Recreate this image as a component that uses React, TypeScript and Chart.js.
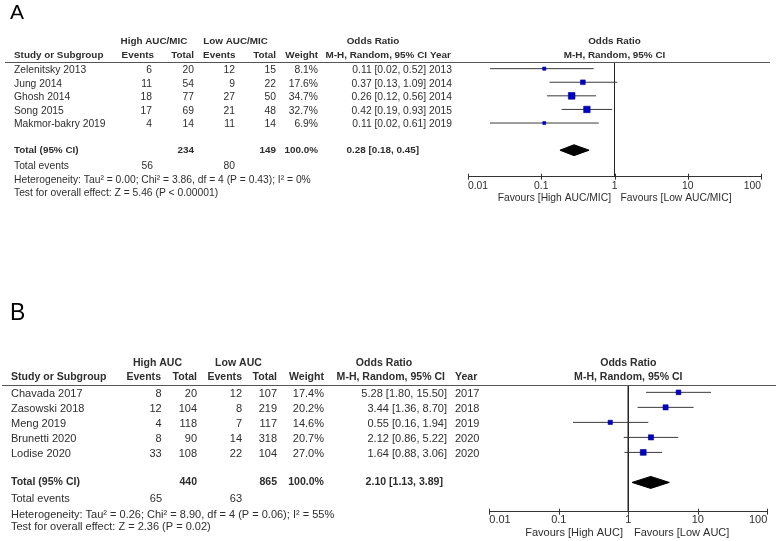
import React, { useEffect, useRef } from "react";
import { Chart, registerables } from "chart.js";
Chart.register(...registerables);

const FONT = '"Liberation Sans", Arial, sans-serif';
const TEXT = "#2e2e2e";

// ---------- Panel A data ----------
const studiesA = ["Zelenitsky 2013", "Jung 2014", "Ghosh 2014", "Song 2015", "Makmor-bakry 2019"];
const highEventsA = [6, 11, 18, 17, 4];
const highTotalA = [20, 54, 77, 69, 14];
const lowEventsA = [12, 9, 27, 21, 11];
const lowTotalA = [15, 22, 50, 48, 14];
const weightA = [8.1, 17.6, 34.7, 32.7, 6.9];
const orA = [0.11, 0.37, 0.26, 0.42, 0.11];
const loA = [0.02, 0.13, 0.12, 0.19, 0.02];
const hiA = [0.52, 1.09, 0.56, 0.93, 0.61];
const yearA = [2013, 2014, 2014, 2015, 2019];
const totalsA = [234, 149];
const totalWeightA = 100.0;
const totalEventsA = [56, 80];
const pooledA = [0.28, 0.18, 0.45];
const hetA = "Heterogeneity: Tau\u00b2 = 0.00; Chi\u00b2 = 3.86, df = 4 (P = 0.43); I\u00b2 = 0%";
const testA = "Test for overall effect: Z = 5.46 (P < 0.00001)";
const groupsA = ["High AUC/MIC", "Low AUC/MIC"];

// ---------- Panel B data ----------
const studiesB = ["Chavada 2017", "Zasowski 2018", "Meng 2019", "Brunetti 2020", "Lodise 2020"];
const highEventsB = [8, 12, 4, 8, 33];
const highTotalB = [20, 104, 118, 90, 108];
const lowEventsB = [12, 8, 7, 14, 22];
const lowTotalB = [107, 219, 117, 318, 104];
const weightB = [17.4, 20.2, 14.6, 20.7, 27.0];
const orB = [5.28, 3.44, 0.55, 2.12, 1.64];
const loB = [1.8, 1.36, 0.16, 0.86, 0.88];
const hiB = [15.5, 8.7, 1.94, 5.22, 3.06];
const yearB = [2017, 2018, 2019, 2020, 2020];
const totalsB = [440, 865];
const totalWeightB = 100.0;
const totalEventsB = [65, 63];
const pooledB = [2.1, 1.13, 3.89];
const hetB = "Heterogeneity: Tau\u00b2 = 0.26; Chi\u00b2 = 8.90, df = 4 (P = 0.06); I\u00b2 = 55%";
const testB = "Test for overall effect: Z = 2.36 (P = 0.02)";
const groupsB = ["High AUC", "Low AUC"];

// ---------- axis ----------
const tickValues = [0.01, 0.1, 1, 10, 100];
const tickLabels = ["0.01", "0.1", "1", "10", "100"];
const Y_MIN = -0.49;
const Y_MAX = 7.95;
const POOLED_ROW = 6;

const panelA = {
  letter: "A", letterSize: 21, letterX: 10, letterY: 13.5,
  height: 250, fs: 10.3,
  pad: { left: 468, right: 17, top: 62, bottom: 250 - 176.7 - 20 },
  h1Y: 41.7, h2Y: 55.3, lineX0: 5, lineX1: 770,
  teY: 165.7, hetY: 180, testY: 193.3, favY: 197.7, favGapL: 3.5, favGapR: 6, tickPad: 3.5,
  studyX: 14, colR: [152, 194, 235, 276, 318, 426], yearX: 429,
  hdrR: [154, 194, 235.5, 276, 318, 427], yearHdrX: 430,
  h1C: [154, 235.5, 373], totOrR: 419, totEvR: [153, 235],
  studies: studiesA, he: highEventsA, ht: highTotalA, le: lowEventsA, lt: lowTotalA,
  w: weightA, or: orA, lo: loA, hi: hiA, year: yearA, totals: totalsA, tw: totalWeightA, tev: totalEventsA,
  pooled: pooledA, het: hetA, test: testA, groups: groupsA,
};

const panelB = {
  letter: "B", letterSize: 23, letterX: 10, letterY: 64,
  height: 291, fs: 11,
  pad: { left: 489.3, right: 10.7, top: 135, bottom: 291 - 261.7 - 20 },
  h1Y: 112.7, h2Y: 127.3, lineX0: 2, lineX1: 776,
  teY: 248.7, hetY: 265.3, testY: 277.3, favY: 283.3, favGapL: 5.3, favGapR: 5.7, tickPad: 2,
  studyX: 11, colR: [161.7, 197, 242, 277, 324, 447], yearX: 455,
  hdrR: [161, 197, 242, 277, 324, 445], yearHdrX: 455,
  h1C: [157.5, 238.5, 384], totOrR: 443, totEvR: [162, 242],
  studies: studiesB, he: highEventsB, ht: highTotalB, le: lowEventsB, lt: lowTotalB,
  w: weightB, or: orB, lo: loB, hi: hiB, year: yearB, totals: totalsB, tw: totalWeightB, tev: totalEventsB,
  pooled: pooledB, het: hetB, test: testB, groups: groupsB,
};

const fmtOR = (o: number, l: number, h: number) => `${o.toFixed(2)} [${l.toFixed(2)}, ${h.toFixed(2)}]`;

function buildChart(canvas: HTMLCanvasElement, c: any) {
  const tablePlugin = {
    id: "forestTable",
    afterDraw(chart: any) {
      const ctx = chart.ctx;
      const xs = chart.scales.x;
      const ys = chart.scales.y;
      const area = chart.chartArea;
      const reg = `${c.fs}px ${FONT}`;
      const bold = `bold ${(c.fs * 0.96).toFixed(2)}px ${FONT}`;
      const t = (s: string, x: number, y: number, align: CanvasTextAlign, f = reg) => {
        ctx.font = f;
        ctx.textAlign = align;
        ctx.fillText(s, x, y);
      };
      ctx.save();
      ctx.fillStyle = "#000";
      ctx.textBaseline = "middle";
      t(c.letter, c.letterX, c.letterY, "left", `${c.letterSize}px ${FONT}`);
      ctx.fillStyle = TEXT;
      // header row 1
      t(c.groups[0], c.h1C[0], c.h1Y, "center", bold);
      t(c.groups[1], c.h1C[1], c.h1Y, "center", bold);
      t("Odds Ratio", c.h1C[2], c.h1Y, "center", bold);
      const x1 = xs.getPixelForValue(1);
      t("Odds Ratio", x1, c.h1Y, "center", bold);
      // header row 2
      t("Study or Subgroup", c.studyX, c.h2Y, "left", bold);
      const h2 = ["Events", "Total", "Events", "Total", "Weight", "M-H, Random, 95% CI"];
      h2.forEach((s, i) => t(s, c.hdrR[i], c.h2Y, "right", bold));
      t("Year", c.yearHdrX, c.h2Y, "left", bold);
      t("M-H, Random, 95% CI", x1, c.h2Y, "center", bold);
      // separator line
      ctx.strokeStyle = "#555";
      ctx.lineWidth = 1;
      ctx.beginPath();
      const ly = Math.round(area.top) + 0.5;
      ctx.moveTo(c.lineX0, ly);
      ctx.lineTo(c.lineX1, ly);
      ctx.stroke();
      // study rows
      c.studies.forEach((s: string, i: number) => {
        const y = ys.getPixelForValue(i) + 1.5;
        t(s, c.studyX, y, "left");
        t(String(c.he[i]), c.colR[0], y, "right");
        t(String(c.ht[i]), c.colR[1], y, "right");
        t(String(c.le[i]), c.colR[2], y, "right");
        t(String(c.lt[i]), c.colR[3], y, "right");
        t(`${c.w[i].toFixed(1)}%`, c.colR[4], y, "right");
        t(fmtOR(c.or[i], c.lo[i], c.hi[i]), c.colR[5], y, "right");
        t(String(c.year[i]), c.yearX, y, "left");
      });
      // total row
      const ty = ys.getPixelForValue(POOLED_ROW);
      t("Total (95% CI)", c.studyX, ty, "left", bold);
      t(String(c.totals[0]), c.colR[1], ty, "right", bold);
      t(String(c.totals[1]), c.colR[3], ty, "right", bold);
      t(`${c.tw.toFixed(1)}%`, c.colR[4], ty, "right", bold);
      t(fmtOR(c.pooled[0], c.pooled[1], c.pooled[2]), c.totOrR, ty, "right", bold);
      // total events etc.
      t("Total events", c.studyX, c.teY, "left");
      t(String(c.tev[0]), c.totEvR[0], c.teY, "right");
      t(String(c.tev[1]), c.totEvR[1], c.teY, "right");
      t(c.het, c.studyX, c.hetY, "left");
      t(c.test, c.studyX, c.testY, "left");
      // favours
      t(`Favours [${c.groups[0]}]`, x1 - c.favGapL, c.favY, "right");
      t(`Favours [${c.groups[1]}]`, x1 + c.favGapR, c.favY, "left");
      // tick marks
      ctx.strokeStyle = "#333";
      ctx.beginPath();
      tickValues.forEach((v) => {
        const x = Math.round(xs.getPixelForValue(v)) + 0.5;
        ctx.moveTo(x, area.bottom - 3);
        ctx.lineTo(x, area.bottom + 3);
      });
      ctx.stroke();
      ctx.restore();
    },
  };

  const H = 0.4;
  const datasets: any[] = [
    {
      data: c.or.map((v: number, i: number) => ({ x: v, y: i })),
      pointStyle: "rect",
      pointRadius: c.w.map((w: number) => 0.8 * Math.sqrt(w)),
      backgroundColor: "#0000c8",
      borderColor: "#000090",
      borderWidth: 0.6,
    },
    ...c.studies.map((_: string, i: number) => ({
      data: [{ x: c.lo[i], y: i }, { x: c.hi[i], y: i }],
      showLine: true,
      borderColor: "#3a3a3a",
      borderWidth: 1,
      pointRadius: 0,
    })),
    {
      data: [
        { x: c.pooled[1], y: POOLED_ROW },
        { x: c.pooled[0], y: POOLED_ROW - H },
        { x: c.pooled[2], y: POOLED_ROW },
        { x: c.pooled[0], y: POOLED_ROW + H },
        { x: c.pooled[1], y: POOLED_ROW },
      ],
      showLine: true,
      fill: "shape",
      backgroundColor: "#000",
      borderColor: "#000",
      borderWidth: 1,
      pointRadius: 0,
    },
    {
      data: [{ x: 1, y: Y_MIN }, { x: 1, y: Y_MAX }],
      showLine: true,
      borderColor: "#222",
      borderWidth: 1,
      pointRadius: 0,
    },
  ];

  return new Chart(canvas, {
    type: "scatter",
    data: { datasets },
    plugins: [tablePlugin],
    options: {
      responsive: false,
      animation: false,
      devicePixelRatio: 1,
      layout: { padding: c.pad },
      plugins: { legend: { display: false }, tooltip: { enabled: false } },
      scales: {
        x: {
          type: "logarithmic",
          min: 0.01,
          max: 100,
          position: "bottom",
          grid: { display: false, drawTicks: false },
          border: { display: true, color: "#333", width: 1 },
          afterBuildTicks: (s: any) => {
            s.ticks = tickValues.map((v) => ({ value: v }));
          },
          afterFit: (s: any) => {
            s.height = 20;
          },
          ticks: {
            align: "inner",
            padding: c.tickPad,
            color: TEXT,
            font: { family: FONT, size: c.fs },
            maxRotation: 0,
            autoSkip: false,
            callback: (v: any) => {
              const k = tickValues.findIndex((t) => Math.abs(t - Number(v)) < 1e-9);
              return k >= 0 ? tickLabels[k] : "";
            },
          },
        },
        y: { type: "linear", min: Y_MIN, max: Y_MAX, reverse: true, display: false },
      },
    } as any,
  });
}

function ForestPanel({ cfg }: { cfg: any }) {
  const ref = useRef<HTMLCanvasElement | null>(null);
  useEffect(() => {
    const chart = buildChart(ref.current as HTMLCanvasElement, cfg);
    return () => chart.destroy();
  }, [cfg]);
  return (
    <canvas
      ref={ref}
      width={778}
      height={cfg.height}
      style={{ display: "block", width: 778, height: cfg.height }}
    />
  );
}

export default function App() {
  return (
    <div style={{ position: "fixed", left: 0, top: 0, width: 778, height: 541, background: "#fff" }}>
      <ForestPanel cfg={panelA} />
      <ForestPanel cfg={panelB} />
    </div>
  );
}
